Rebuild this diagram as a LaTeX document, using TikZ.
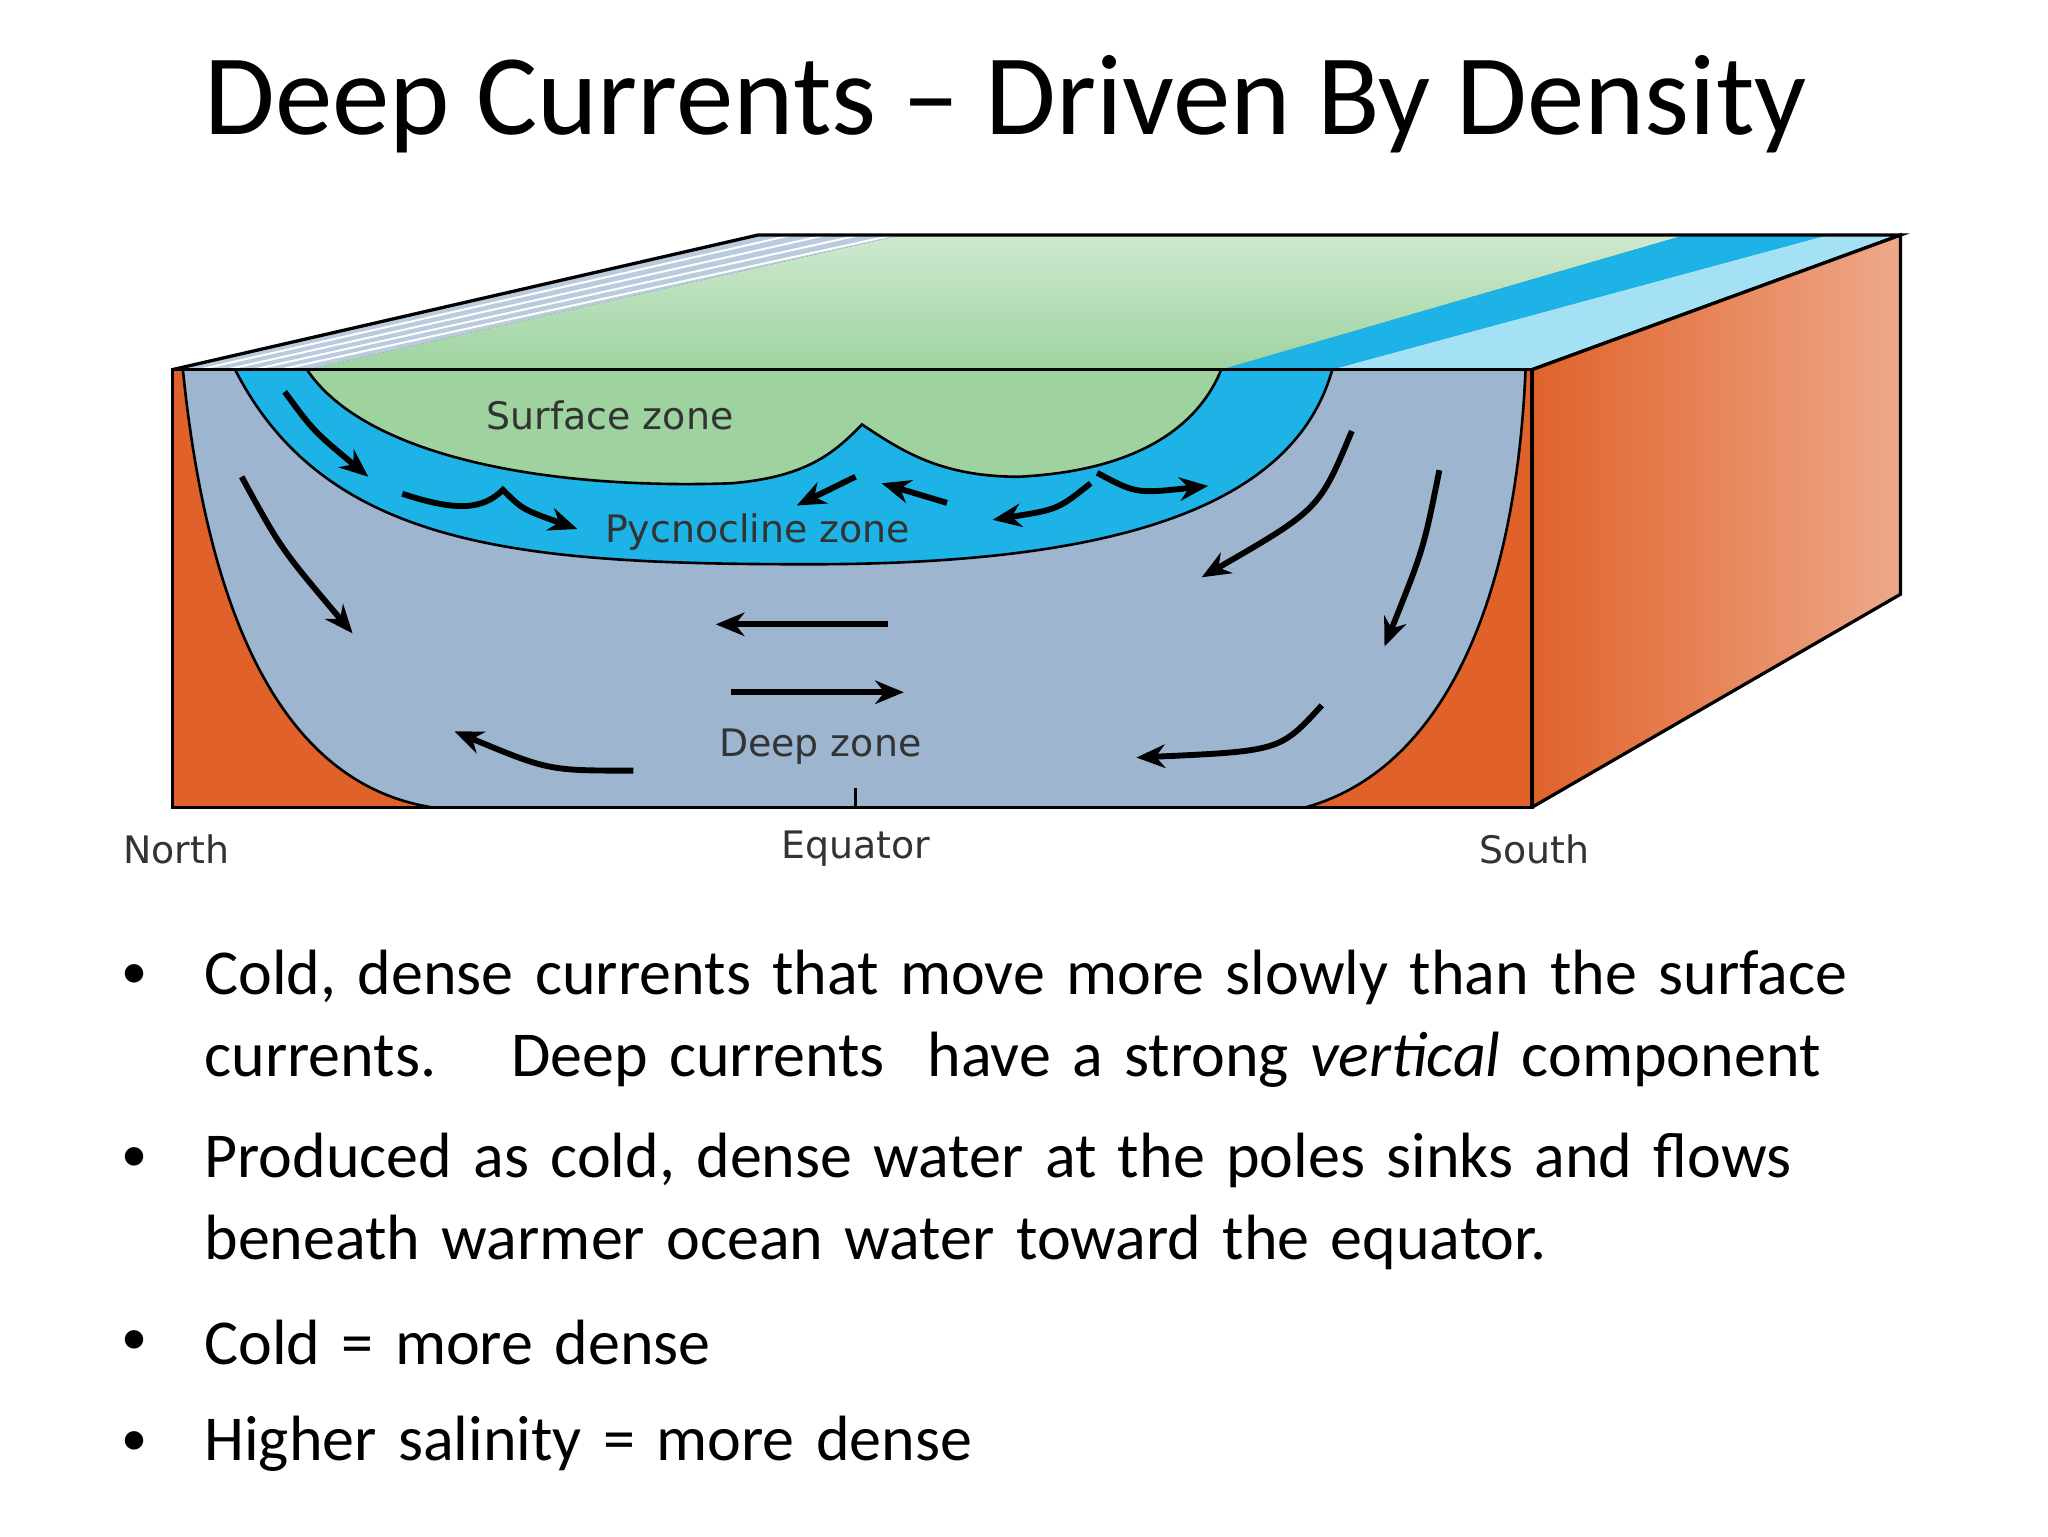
\documentclass[tikz,border=0pt]{standalone}
\usepackage{fontspec}
\setmainfont{Carlito}
\newfontfamily\lab{DejaVu Sans}
\usetikzlibrary{arrows.meta}
\definecolor{orng}{HTML}{E0622A}
\definecolor{grn}{HTML}{9ED3A0}
\definecolor{blu}{HTML}{1DB3E6}
\definecolor{gblu}{HTML}{9DB5CF}
\tikzset{cur/.style={line width=4.5pt,-{Stealth[length=22pt,width=18pt]}},
 zl/.style={font=\lab\fontsize{29}{29}\selectfont,text=black!80},
 bul/.style={anchor=west,font=\fontsize{49}{63}\selectfont,align=left,text width=1600pt}}
\begin{document}
\begin{tikzpicture}[x=1pt,y=-1pt]
\useasboundingbox (0,0) rectangle (1568,1176);
\node[font=\fontsize{88}{88}\selectfont] (title) at (770,80) {Deep Currents -- Driven By Density};
% top face
\fill[grn!60!white] (132,283)--(580,180)--(1455,180)--(1173,283)--cycle;
\fill[top color=grn!50!white,bottom color=grn] (235,283)--(690,180)--(1290,180)--(935,283)--cycle;
\fill[gblu!70!white] (132,283)--(580,180)--(690,180)--(235,283)--cycle;
\foreach \d in {20,40,60,80}{\draw[white,line width=1.5pt] (132+\d*1.03,283) -- (580+\d*1.3,180);}
\fill[blu] (935,283)--(1290,180)--(1400,180)--(1020,283)--cycle;
\fill[blu!40!white] (1020,283)--(1400,180)--(1455,180)--(1173,283)--cycle;
\draw[line width=2.5pt] (132,283)--(580,180)--(1455,180)--(1173,283);
% right face
\shade[left color=orng,right color=orng!55!white] (1173,283)--(1455,180)--(1455,455)--(1173,618)--cycle;
\draw[line width=2.5pt] (1173,283)--(1455,180)--(1455,455)--(1173,618);
% front face
\fill[gblu] (132,283) rectangle (1173,618);
\fill[orng] (132,283)--(132,618)--(330,618) .. controls (220,600) and (160,480) .. (140,283)--cycle;
\fill[orng] (1173,283)--(1173,618)--(1000,618) .. controls (1100,590) and (1160,470) .. (1168,283)--cycle;
\draw[line width=2pt] (330,618) .. controls (220,600) and (160,480) .. (140,283);
\draw[line width=2pt] (1000,618) .. controls (1100,590) and (1160,470) .. (1168,283);
\fill[blu] (180,283) .. controls (250,420) and (400,432) .. (620,432) .. controls (850,432) and (990,390) .. (1020,283)--cycle;
\draw[line width=2pt] (180,283) .. controls (250,420) and (400,432) .. (620,432) .. controls (850,432) and (990,390) .. (1020,283);
\fill[grn] (235,283) .. controls (280,350) and (420,375) .. (560,370) .. controls (620,365) and (640,345) .. (660,325) .. controls (690,345) and (720,365) .. (780,365) .. controls (880,360) and (920,320) .. (935,283)--cycle;
\draw[line width=2pt] (235,283) .. controls (280,350) and (420,375) .. (560,370) .. controls (620,365) and (640,345) .. (660,325) .. controls (690,345) and (720,365) .. (780,365) .. controls (880,360) and (920,320) .. (935,283);
\draw[line width=2.5pt] (132,283) rectangle (1173,618);
\draw[line width=2.5pt] (655,603)--(655,618);
% arrows
\draw[cur] (218,300) .. controls (240,330) .. (282,365);
\draw[cur] (185,365) .. controls (215,420) .. (270,485);
\draw[cur] (308,378) .. controls (350,392) and (370,390) .. (385,375) .. controls (400,390) .. (442,405);
\draw[cur] (655,365) -- (610,387);
\draw[cur] (725,385) -- (675,370);
\draw[cur] (835,370) .. controls (810,390) .. (760,398);
\draw[cur] (840,362) .. controls (870,378) .. (925,372);
\draw[cur] (1035,330) .. controls (1010,390) .. (920,442);
\draw[cur] (1102,360) .. controls (1090,420) .. (1060,495);
\draw[cur] (680,478) -- (548,478);
\draw[cur] (560,530) -- (692,530);
\draw[cur] (485,590) .. controls (420,590) .. (348,560);
\draw[cur] (1012,540) .. controls (980,575) .. (870,580);
% labels
\node[zl] (sz) at (467,318) {Surface zone};
\node[zl] (pz) at (580,407) {Pycnocline zone};
\node[zl] (dz) at (628,572) {Deep zone};
\node[zl] (n) at (135,650) {North};
\node[zl] (e) at (655,650) {Equator};
\node[zl] (s) at (1175,650) {South};
% bullets
\foreach \y in {748,888,1028,1105}{\node[font=\fontsize{40}{40}\selectfont] at (103,\y) {•};}
\node[bul] (b1) at (153,780) {Cold, dense currents that move more slowly than the surface\\currents. \ \ Deep currents \ have a strong \textit{vertical} component};
\node[bul] (b2) at (153,920) {Produced as cold, dense water at the poles sinks and flows\\beneath warmer ocean water toward the equator.};
\node[bul] (b3) at (153,1028) {Cold = more dense};
\node[bul] (b4) at (153,1105) {Higher salinity = more dense};
\end{tikzpicture}
\end{document}
